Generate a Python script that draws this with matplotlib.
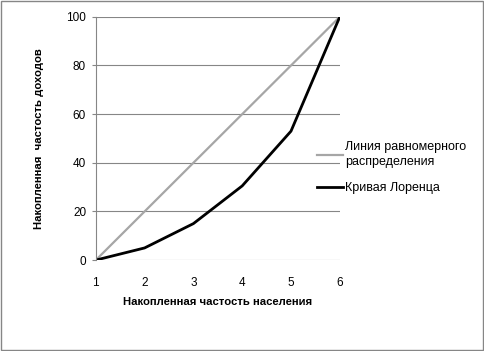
import matplotlib
matplotlib.use("Agg")
import matplotlib.pyplot as plt
from matplotlib.patches import Rectangle

# data
groups = [1, 2, 3, 4, 5, 6]
equal_line = [0, 20, 40, 60, 80, 100]
lorenz = [0, 5, 15, 30.5, 53, 100]
y_ticks = [0, 20, 40, 60, 80, 100]

plt.rcParams["font.family"] = ["Liberation Sans", "DejaVu Sans"]

fig = plt.figure(figsize=(4.84, 3.51), dpi=100)
ax = fig.add_axes([0.198, 0.259, 0.504, 0.693])

ax.plot(groups, equal_line, color="#a6a6a6", lw=1.6, label="Линия равномерного\nраспределения")
ax.plot(groups, lorenz, color="black", lw=2.0, label="Кривая Лоренца")

ax.set_xlim(1, 6)
ax.set_ylim(0, 100)
ax.set_yticks(y_ticks)
ax.set_xticks(groups)
ax.yaxis.grid(True, color="#868686", lw=0.8)
ax.set_axisbelow(True)

for side in ("top", "right", "bottom"):
    ax.spines[side].set_visible(False)
ax.spines["left"].set_color("#868686")
ax.spines["left"].set_linewidth(0.8)
ax.tick_params(axis="y", length=3, color="#868686", labelsize=8.5, pad=4)
ax.tick_params(axis="x", length=0, labelsize=8.5, pad=12)

ax.set_xlabel("Накопленная частость населения", fontsize=8.1, fontweight="bold", labelpad=6)
ax.set_ylabel("Накопленная  частость доходов", fontsize=8.1, fontweight="bold", labelpad=16)

leg = ax.legend(loc="upper left", bbox_to_anchor=(0.655, 0.598), bbox_transform=fig.transFigure,
                frameon=False, fontsize=9, handlelength=2.1, handletextpad=0.15,
                labelspacing=1.1, borderpad=0, borderaxespad=0)
for t in leg.get_texts():
    t.set_linespacing(1.35)

fig.patches.append(Rectangle((0.002, 0.003), 0.996, 0.994, transform=fig.transFigure,
                             fill=False, edgecolor="#868686", lw=1))

fig.savefig("out.png", dpi=100)
